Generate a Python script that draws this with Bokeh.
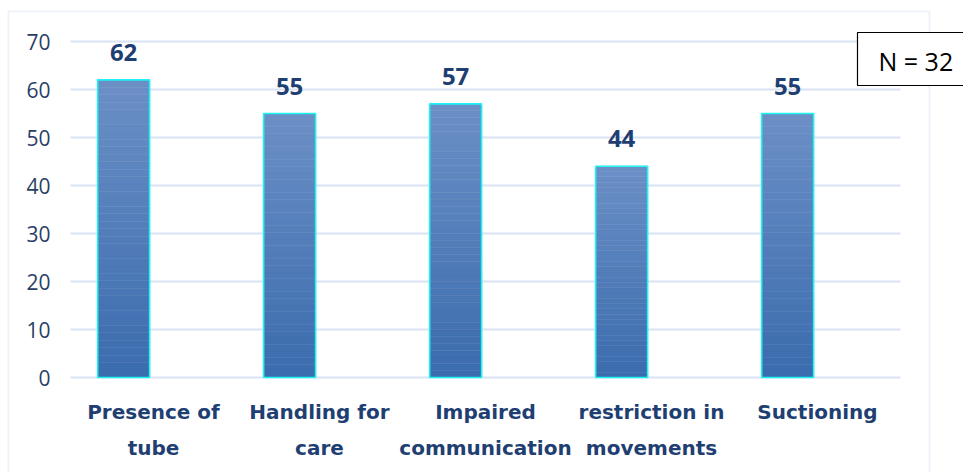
from bokeh.plotting import figure
from bokeh.models import Range1d, Label, BoxAnnotation, ColumnDataSource
from bokeh.core.properties import value
from bokeh.embed import file_html
from bokeh.resources import INLINE

categories = ["Presence of tube", "Handling for care", "Impaired communication",
              "restriction in movements", "Suctioning"]
tick_labels = ["Presence of\ntube", "Handling for\ncare", "Impaired\ncommunication",
               "restriction in\nmovements", "Suctioning"]
values = [62, 55, 57, 44, 55]
y_ticks = [0, 10, 20, 30, 40, 50, 60, 70]
n_note = "N = 32"

W, H = 963, 472
CAT_PX = 166.0          # pixel width of one category slot
PLOT_L, PLOT_B = 70, 377  # left edge of first slot, pixel of value 0
PX_PER_UNIT = 4.8
TOP_C = (0x6c, 0x90, 0xc6)
BOT_C = (0x3b, 0x6c, 0xae)
LABEL_C = "#1f3f73"
BAR_W = 0.313
BAR_SHIFT = -0.18

x_range = Range1d(-PLOT_L / CAT_PX, (W - PLOT_L) / CAT_PX)
y_range = Range1d(-(H - PLOT_B) / PX_PER_UNIT, (PLOT_B) / PX_PER_UNIT)

p = figure(width=W, height=H, x_range=x_range, y_range=y_range,
           output_backend="svg", toolbar_location=None,
           min_border=0, x_axis_type=None, y_axis_type=None)
p.outline_line_color = None
p.grid.visible = False
p.background_fill_color = "white"
p.border_fill_color = "white"

n = len(categories)
slot_center = [i + 0.5 for i in range(n)]
bar_x = [c + BAR_SHIFT for c in slot_center]

# horizontal gridlines across the category slots
p.segment(x0=[0] * len(y_ticks), x1=[n] * len(y_ticks), y0=y_ticks, y1=y_ticks,
          line_color="#d9e3f3", line_width=2)

# y tick labels
p.text(x=[-20 / CAT_PX] * len(y_ticks), y=y_ticks, text=[str(t) for t in y_ticks],
       text_align="right", text_baseline="middle", text_font=value("Open Sans"),
       text_font_size="21px", text_color="#2a3f66")

# gradient bars built from slices of each value
n_sl = 40
xs, bots, tops, cols = [], [], [], []
for xc, v in zip(bar_x, values):
    for k in range(n_sl):
        t = (k + 0.5) / n_sl
        r = int(BOT_C[0] + (TOP_C[0] - BOT_C[0]) * t)
        g = int(BOT_C[1] + (TOP_C[1] - BOT_C[1]) * t)
        b = int(BOT_C[2] + (TOP_C[2] - BOT_C[2]) * t)
        xs.append(xc)
        bots.append(v * k / n_sl)
        tops.append(v * (k + 1) / n_sl)
        cols.append("#%02x%02x%02x" % (r, g, b))
grad = ColumnDataSource(dict(x=xs, bottom=bots, top=tops, color=cols))
p.vbar(x="x", bottom="bottom", top="top", width=BAR_W,
       source=grad, fill_color="color", line_color="color", line_width=0.5)

src = ColumnDataSource(dict(x=bar_x, top=values, lab=[str(v) for v in values]))
p.vbar(x="x", top="top", bottom=0, width=BAR_W, source=src,
       fill_color=None, line_color="#1ff4f4", line_width=1.6)
p.text(x="x", y="top", text="lab", source=src,
       y_offset=-19, text_align="center", text_baseline="bottom",
       text_font=value("Open Sans"), text_font_style="bold", text_font_size="24px",
       text_color=LABEL_C)

# category labels
p.text(x=slot_center, y=[0] * n, text=tick_labels, y_offset=22,
       text_align="center", text_baseline="top",
       text_font=value("DejaVu Sans"), text_font_style="bold",
       text_font_size="20px", text_color=LABEL_C, text_line_height=1.52)

# outer chart border (screen units, measured from the bottom-left of the canvas)
border = BoxAnnotation(left=8, right=929, top=H - 11, bottom=-10,
                       left_units="screen", right_units="screen",
                       top_units="screen", bottom_units="screen",
                       fill_alpha=0, fill_color=None, line_color="#c8d7ed", line_width=2)
p.add_layout(border)

note = Label(x=857, y=H - 32, x_units="screen", y_units="screen",
             text=n_note, text_font="Open Sans", text_font_size="25px", text_color="black",
             text_baseline="top", text_align="left",
             border_line_color="black", border_line_width=1.2,
             background_fill_color="white",
             padding=dict(left=21, right=30, top=11, bottom=8))
p.add_layout(note)

open("out.html", "w").write(file_html(p, INLINE))
